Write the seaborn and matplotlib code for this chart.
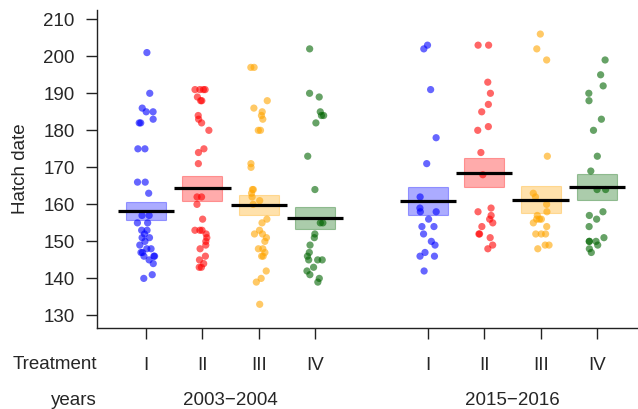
"""
Hatch date by treatment for two periods: jittered points, mean lines and
shaded intervals.
"""

import matplotlib
matplotlib.use("Agg")
import matplotlib.pyplot as plt
import matplotlib.transforms as mtransforms
import numpy as np
import pandas as pd
import seaborn as sns

periods = ["2003\u22122004", "2015\u22122016"]
treatments = ["I", "II", "III", "IV"]

# hatch dates, per period and treatment
hatch_2003 = {
    "I": [201, 190, 186, 185, 185, 183, 182, 182, 175, 175, 166, 166, 163,
          157, 157, 155, 155, 153, 153, 152, 151, 151, 150, 149, 148, 148,
          147, 147, 146, 146, 146, 145, 144, 141, 140],
    "II": [191, 191, 191, 191, 189, 188, 188, 184, 183, 182, 180, 175, 174,
           171, 162, 162, 160, 156, 153, 153, 153, 152, 151, 150, 149, 148,
           146, 145, 144, 143, 143],
    "III": [197, 197, 188, 186, 185, 184, 183, 180, 180, 171, 170, 164, 164,
            163, 162, 161, 160, 156, 155, 153, 152, 152, 151, 150, 148, 148,
            147, 146, 146, 142, 140, 139, 133],
    "IV": [202, 190, 189, 185, 184, 184, 182, 173, 164, 155, 155, 152, 151,
           149, 147, 146, 145, 145, 145, 143, 142, 141, 140, 139],
}
hatch_2015 = {
    "I": [203, 202, 191, 178, 171, 162, 159, 158, 158, 156, 154, 154, 152,
          150, 149, 147, 146, 146, 142],
    "II": [203, 203, 193, 190, 187, 185, 181, 180, 174, 168, 159, 158, 157,
           156, 155, 154, 152, 152, 151, 149, 148],
    "III": [206, 202, 199, 173, 163, 162, 160, 158, 157, 156, 156, 156, 155,
            154, 152, 152, 152, 149, 149, 148],
    "IV": [199, 195, 192, 190, 188, 183, 180, 173, 169, 164, 164, 158, 157,
           156, 154, 151, 150, 150, 150, 149, 148, 147],
}

# group means and interval limits as drawn in the reference
mean_2003 = [158.2, 164.3, 159.9, 156.3]
low_2003 = [155.8, 161.0, 157.1, 153.4]
high_2003 = [160.6, 167.7, 162.4, 159.3]
mean_2015 = [160.9, 168.6, 161.2, 164.8]
low_2015 = [157.0, 164.8, 157.7, 161.2]
high_2015 = [164.8, 172.5, 165.0, 168.2]

colors = ["blue", "red", "orange", "darkgreen"]

sns.set_style("white")
plt.rcParams["font.family"] = ["Liberation Sans", "DejaVu Sans"]
plt.rcParams["font.size"] = 13.5

# slot positions: 4 treatments, one empty slot between periods
rows = []
pos = {}
for p, data in enumerate([hatch_2003, hatch_2015]):
    for t, name in enumerate(treatments):
        x = 1 + t + 5 * p
        pos[(p, t)] = x
        for v in data[name]:
            rows.append({"x": x, "date": v, "treatment": name})
df = pd.DataFrame(rows)

fig = plt.figure(figsize=(6.38, 4.09), dpi=100)
ax = fig.add_axes([97 / 638, 1 - 328 / 409, 1 - 97 / 638, 318 / 409])

# shaded intervals and mean lines
for p, (means, lows, highs) in enumerate([(mean_2003, low_2003, high_2003),
                                          (mean_2015, low_2015, high_2015)]):
    for t in range(4):
        x = pos[(p, t)]
        ax.bar(x, highs[t] - lows[t], bottom=lows[t], width=0.71,
               color=colors[t], alpha=0.33, edgecolor=colors[t],
               linewidth=0.8, zorder=1)
        ax.hlines(means[t], x - 0.5, x + 0.5, color="black", lw=2.3, zorder=4)

np.random.seed(3)
sns.stripplot(data=df, x="x", y="date", hue="treatment", palette=colors,
              hue_order=treatments, native_scale=True, jitter=0.16, size=5.2,
              alpha=0.6, linewidth=0, legend=False, ax=ax, zorder=3)

ax.set_xlim(0.131, 9.727)
ax.set_ylim(126.6, 212.5)
ax.set_yticks(np.arange(130, 211, 10))
ax.set_xticks([pos[k] for k in sorted(pos)])
ax.set_xticklabels(treatments * 2)
ax.set_xlabel("")
ax.set_ylabel("Hatch date", labelpad=10)

for side in ["top", "right"]:
    ax.spines[side].set_visible(False)
for side in ["left", "bottom"]:
    ax.spines[side].set_color("#222222")
    ax.spines[side].set_linewidth(1.0)
ax.tick_params(axis="both", length=8, width=1.0, color="#222222",
               direction="out", left=True, bottom=True)
ax.tick_params(axis="y", pad=8)
ax.tick_params(axis="x", pad=13)

# row labels below the axis (baselines)
ty = 1 - 369 / 409
yy = 1 - 405 / 409
fig.text(97 / 638, ty, "Treatment", ha="right", va="baseline")
fig.text(97 / 638, yy, "years", ha="right", va="baseline")
trans = mtransforms.blended_transform_factory(ax.transData, fig.transFigure)
for p, label in enumerate(periods):
    mid = (pos[(p, 1)] + pos[(p, 2)]) / 2
    ax.text(mid, yy, label, ha="center", va="baseline", transform=trans)

fig.savefig("out.png", dpi=100)
